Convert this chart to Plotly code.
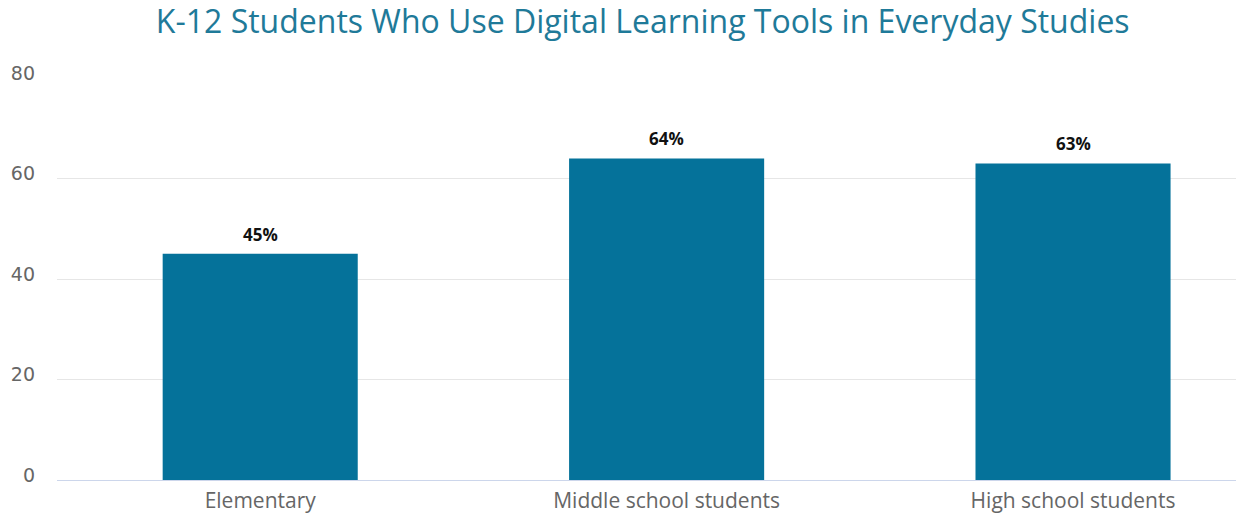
import plotly.graph_objects as go

categories = ["Elementary", "Middle school students", "High school students"]
values = [45, 64, 63]
labels = ["45%", "64%", "63%"]
title_text = "K-12 Students Who Use Digital Learning Tools in Everyday Studies"
y_ticks = [0, 20, 40, 60, 80]

FONT = "Open Sans, DejaVu Sans, sans-serif"
TICKFONT = "DejaVu Sans, sans-serif"

fig = go.Figure(
    go.Bar(
        x=list(range(len(categories))),
        y=values,
        width=0.48,
        marker=dict(color="#05729a", line=dict(width=0)),
        hoverinfo="skip",
    )
)

for i, (v, t) in enumerate(zip(values, labels)):
    fig.add_annotation(
        x=i, y=v, text="<b>" + t + "</b>", showarrow=False,
        yanchor="bottom", yshift=6,
        font=dict(family=FONT, size=17, color="#111111"),
    )

fig.update_layout(
    width=1236, height=514,
    margin=dict(l=57, r=0, t=78, b=34),
    paper_bgcolor="white", plot_bgcolor="white",
    showlegend=False,
    title=dict(
        text=title_text, x=0.52, xanchor="center", y=0.957, yanchor="middle",
        font=dict(family=FONT, size=32, color="#1f7a99"),
    ),
    xaxis=dict(
        range=[-0.5, 2.401],
        tickmode="array",
        tickvals=list(range(len(categories))),
        ticktext=categories,
        tickfont=dict(family=FONT, size=21, color="#666666"),
        showgrid=False, zeroline=False,
        showline=True, linecolor="#ccd6eb", linewidth=1,
        ticks="", ticklabelstandoff=2, fixedrange=True,
    ),
    yaxis=dict(
        range=[0, 80],
        tickvals=y_ticks,
        tickfont=dict(family=TICKFONT, size=19, color="#666666"),
        showgrid=True, gridcolor="#e6e6e6", gridwidth=1,
        zeroline=False, showline=False, ticks="",
        ticklabelstandoff=21,
        ticklabelshift=-5,
        fixedrange=True,
    ),
)

fig.write_html("out.html")
